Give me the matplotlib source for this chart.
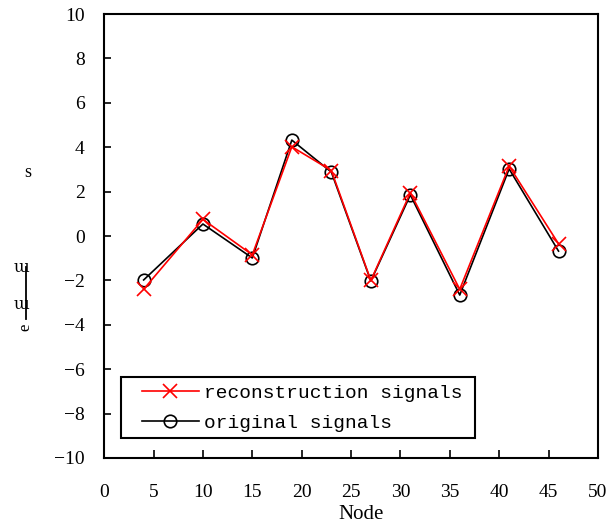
import matplotlib
matplotlib.use("Agg")
import matplotlib.pyplot as plt
from matplotlib.lines import Line2D
from matplotlib.patches import Rectangle

# data
nodes = [4, 10, 15, 19, 23, 27, 31, 36, 41, 46]
reconstruction = [-2.4, 0.75, -0.85, 4.02, 2.95, -2.0, 1.95, -2.4, 3.15, -0.35]
original = [-1.98, 0.54, -0.99, 4.32, 2.88, -2.03, 1.85, -2.66, 3.02, -0.68]

xticks = list(range(0, 51, 5))
yticks = list(range(-10, 11, 2))

fig = plt.figure(figsize=(6.09, 5.23), dpi=100)
ax = fig.add_axes([0.171, 0.1243, 0.811, 0.8489])

ax.plot(nodes, reconstruction, '-x', color='red', lw=1.2, ms=10, mew=1.2,
        label='reconstruction signals', zorder=3)
ax.plot(nodes, original, '-o', color='black', lw=1.2, ms=9, mew=1.2,
        mfc='none', label='original signals', zorder=2)

ax.set_xlim(0, 50)
ax.set_ylim(-10, 10)
ax.set_xticks(xticks)
ax.set_yticks(yticks)
ax.set_yticklabels([f"{v:d}".replace('-', '\u2212') for v in yticks])

for lab in ax.get_xticklabels() + ax.get_yticklabels():
    lab.set_fontfamily('Liberation Serif')
    lab.set_fontsize(14)

ax.tick_params(axis='x', direction='in', length=6, width=1.2, pad=19,
               top=False)
ax.tick_params(axis='y', direction='in', length=5, width=1.2, pad=14,
               right=False)

for sp in ax.spines.values():
    sp.set_linewidth(1.5)

ax.set_xlabel('Node', fontfamily='Liberation Serif', fontsize=15, labelpad=0)
ax.xaxis.set_label_coords(0.52, -0.105)

# garbled y label as it appears in the picture
fig.text(0.045, 0.67, 's', fontfamily='Liberation Serif', fontsize=13,
         ha='center', va='center')
fig.text(0.036, 0.488, '\u026f', fontfamily='DejaVu Serif', fontsize=12,
         ha='center', va='center')
fig.text(0.036, 0.418, '\u026f', fontfamily='DejaVu Serif', fontsize=12,
         ha='center', va='center')
fig.text(0.041, 0.375, 'e', fontfamily='Liberation Serif', fontsize=12,
         ha='center', va='center', rotation=90)
fig.add_artist(Line2D([0.043, 0.043], [0.39, 0.49], color='black', lw=1.3,
                      transform=fig.transFigure))

# legend without its own frame, box drawn separately to get the padding
leg = ax.legend(loc='center left', bbox_to_anchor=(0.077, 0.1126),
                prop={'family': 'Liberation Mono', 'size': 14},
                frameon=False, handlelength=2.9, borderpad=0,
                labelspacing=0.62, handletextpad=0.3, borderaxespad=0)
ax.add_patch(Rectangle((0.0344, 0.045), 0.7166, 0.1374, transform=ax.transAxes,
                       fill=True, facecolor='white', edgecolor='black',
                       lw=1.5, zorder=4))
leg.set_zorder(5)

fig.savefig('out.png', dpi=100)
